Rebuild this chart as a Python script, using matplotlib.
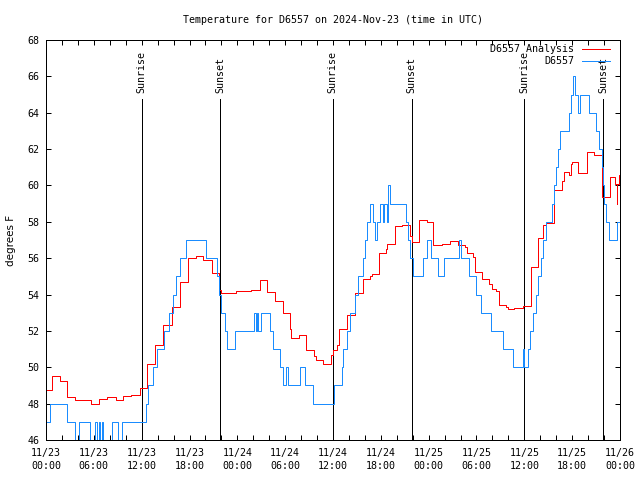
import matplotlib
matplotlib.use("Agg")
import matplotlib.pyplot as plt
import numpy as np

# ---- data (hours since 2024-11-23 00:00 UTC) ----
analysis_t = [0, 0.79, 1.71, 2.59, 3.64, 5.69, 6.65, 7.69, 8.74, 9.7, 10.7, 11.75,
              12.63, 13.67, 14.72, 15.76, 16.81, 17.85, 18.82, 19.73, 20.78, 21.74,
              21.9, 23.8, 25.7, 26.84, 27.75, 28.7, 29.7, 30.6, 30.73, 31.78, 32.65,
              33.66, 33.87, 34.79, 35.75, 35.96, 36.55, 36.8, 37.8, 38.76, 39.8, 40.6,
              40.85, 41.8, 42.6, 42.8, 43.78, 44.6, 45.6, 45.87, 46.75, 47.75, 48.6,
              49.67, 50.68, 51.7, 52.6, 52.77, 53.52, 53.8, 54.75, 55.6, 56.0, 56.45,
              56.8, 57.7, 57.9, 58.75, 59.8, 60.8, 61.7, 62.4, 62.7, 63.75, 64.75,
              64.95, 65.6, 65.8, 66.0, 66.75, 67.8, 68.7, 69.8, 70.75, 71.4, 71.6,
              71.65, 71.85, 72.0]
analysis_v = [48.75, 49.5, 49.25, 48.35, 48.2, 48.0, 48.25, 48.35, 48.2, 48.4, 48.45, 48.85,
              50.2, 51.2, 52.3, 53.3, 54.7, 56.0, 56.1, 55.9, 55.2, 54.25,
              54.1, 54.2, 54.25, 54.8, 54.15, 53.66, 53.0, 52.1, 51.6, 51.77, 50.95,
              50.6, 50.4, 50.2, 50.7, 50.95, 51.2, 52.1, 52.87, 54.07, 54.84, 55.0,
              55.13, 56.27, 56.5, 56.76, 57.77, 57.8, 57.2, 56.9, 58.1, 58.0, 56.72,
              56.8, 56.96, 56.72, 56.6, 56.27, 56.05, 55.26, 54.84, 54.6, 54.3, 54.2,
              53.42, 53.3, 53.19, 53.25, 53.35, 55.5, 57.09, 57.82, 57.95, 59.75, 60.26,
              60.76, 60.6, 61.2, 61.3, 60.67, 61.86, 61.67, 59.38, 60.45, 60.1, 59.0,
              60.1, 60.6, 60.6]

obs_t = [0, 0.5, 2.6, 3.64, 4.2, 5.55, 6.15, 6.45, 6.6, 6.8, 7.0, 7.2, 8.24, 9.07, 9.49,
         12.6, 12.85, 13.4, 13.9, 14.8, 15.4, 15.95, 16.3, 16.8, 17.5, 20.1, 21.4, 21.75,
         21.9, 22.2, 22.45, 22.7, 23.7, 26.1, 26.4, 26.5, 26.6, 27.0, 28.14, 28.5, 29.3,
         29.7, 30.15, 30.35, 31.8, 32.5, 33.5, 36.1, 37.1, 37.3, 37.7, 38.1, 38.8, 39.1,
         39.8, 40.05, 40.3, 40.7, 41.0, 41.25, 41.5, 41.9, 42.25, 42.4, 42.75, 42.9, 43.2,
         45.15, 45.45, 45.7, 46.0, 47.3, 47.85, 48.3, 49.2, 49.9, 51.75, 52.1, 53.1, 53.94,
         54.57, 55.82, 57.37, 58.62, 59.8, 60.0, 60.45, 60.71, 61.05, 61.46, 61.76, 62.05,
         62.38, 62.72, 63.45, 63.72, 63.97, 64.26, 64.48, 65.6, 65.8, 66.06, 66.4, 66.77,
         66.98, 68.1, 68.95, 69.4, 69.7, 69.85, 69.95, 70.25, 70.6, 71.6, 72.0]
obs_v = [47, 48, 47, 46, 47, 46, 47, 46, 47, 46, 47, 46, 47, 46, 47,
         48, 49, 50, 51, 52, 53, 54, 55, 56, 57, 56, 55, 54,
         53, 53, 52, 51, 52, 53, 52, 53, 52, 53, 52, 51, 50,
         49, 50, 49, 50, 49, 48, 49, 50, 51, 52, 53, 54, 55,
         56, 57, 58, 59, 58, 57, 58, 59, 58, 59, 58, 60, 59,
         58, 57, 56, 55, 56, 57, 56, 55, 56, 57, 56, 55, 54,
         53, 52, 51, 50, 51, 50, 51, 52, 53, 54, 55, 56,
         57, 58, 59, 60, 61, 62, 63, 64, 65, 66, 65, 64,
         65, 64, 63, 62, 61, 60, 59, 58, 57, 58, 58]

sun_labels = ["Sunrise", "Sunset", "Sunrise", "Sunset", "Sunrise", "Sunset"]
sun_times = [11.98, 21.87, 35.97, 45.87, 59.98, 69.9]

xtick_pos = [0, 6, 12, 18, 24, 30, 36, 42, 48, 54, 60, 66, 72]
xtick_labels = ["11/23\n00:00", "11/23\n06:00", "11/23\n12:00", "11/23\n18:00",
                "11/24\n00:00", "11/24\n06:00", "11/24\n12:00", "11/24\n18:00",
                "11/25\n00:00", "11/25\n06:00", "11/25\n12:00", "11/25\n18:00",
                "11/26\n00:00"]
ytick_pos = list(range(46, 69, 2))

title = "Temperature for D6557 on 2024-Nov-23 (time in UTC)"
ylabel = "degrees F"
series_names = ["D6557 Analysis", "D6557"]

mono = "DejaVu Sans Mono"
fs = 7.2
lw = 0.72

fig = plt.figure(figsize=(6.4, 4.8), dpi=100)
ax = fig.add_axes([46/640, 40/480, 574/640, 400/480])

l1, = ax.step(analysis_t, analysis_v, where="post", color="#ff0000", lw=lw,
              antialiased=True, snap=True, label=series_names[0])
l2, = ax.step(obs_t, obs_v, where="post", color="#1a8cff", lw=lw,
              antialiased=True, snap=True, label=series_names[1])

ax.set_xlim(0, 72)
ax.set_ylim(46, 68)

for lab, t in zip(sun_labels, sun_times):
    ax.plot([t, t], [46, 64.75], color="black", lw=lw, snap=True, zorder=1)
    ax.text(t, 65.1, lab, rotation=90, ha="center", va="bottom",
            fontsize=fs, family=mono)

ax.set_xticks(xtick_pos)
ax.set_xticklabels(xtick_labels, family=mono, fontsize=fs, linespacing=1.35)
ax.set_xticks(np.arange(0, 73, 2), minor=True)
ax.set_yticks(ytick_pos)
ax.set_yticklabels([str(v) for v in ytick_pos], family=mono, fontsize=fs)
ax.tick_params(which="both", direction="in", length=3.6, width=0.72,
               top=True, right=True, colors="black")
ax.tick_params(axis="x", which="major", pad=6)
ax.tick_params(axis="y", which="major", pad=4.5)
for s in ax.spines.values():
    s.set_linewidth(0.72)
    s.set_color("black")

ax.set_ylabel(ylabel, fontsize=7.5, family="DejaVu Sans")
ax.yaxis.set_label_coords(-30/574, 0.5)

fig.text(333/640, 1 - 20/480, title, ha="center", va="center",
         family=mono, fontsize=fs)

leg = ax.legend(handles=[l1, l2], loc="upper right", frameon=False, markerfirst=False,
                prop={"family": mono, "size": fs}, handlelength=2.8, handletextpad=0.8,
                labelspacing=0.25, borderpad=0, borderaxespad=0,
                bbox_to_anchor=(610/640, 1 - 44/480), bbox_transform=fig.transFigure)

fig.savefig("out.png", dpi=100)
